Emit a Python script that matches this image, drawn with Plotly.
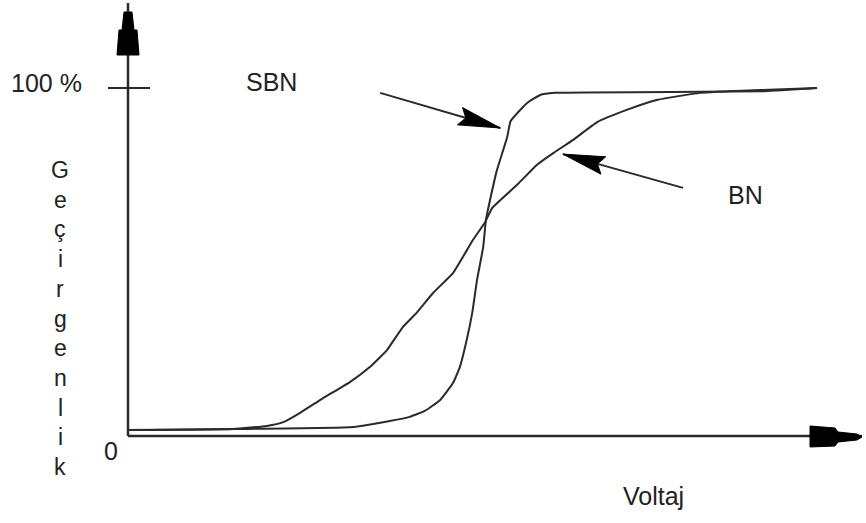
import plotly.graph_objects as go

# ---- data (voltage in arbitrary units, transmittance in %) ----
sbn_v = [0.00, 1.53, 3.28, 3.81, 4.10, 4.32, 4.54, 4.73, 4.83, 4.93, 5.01, 5.08,
         5.17, 5.21, 5.27, 5.37, 5.52, 5.57, 5.81, 6.00, 6.21, 8.33, 9.27, 10.03]
sbn_t = [1.7, 2.0, 2.6, 4.3, 5.5, 7.2, 10.3, 15.2, 19.8, 27.6, 35.3, 44.8,
         54.3, 62.1, 67.8, 76.4, 85.9, 90.5, 95.7, 98.0, 98.6, 98.9, 99.1, 100.0]

bn_v = [0.00, 1.53, 2.02, 2.26, 2.50, 2.84, 3.23, 3.52, 3.77, 4.00, 4.21, 4.44, 4.73,
        5.02, 5.20, 5.30, 5.66, 5.95, 6.19, 6.48, 6.83, 7.26, 7.71, 8.33, 9.20, 10.03]
bn_t = [1.7, 2.0, 2.9, 4.0, 6.6, 10.9, 15.5, 19.8, 24.7, 31.3, 35.6, 41.1, 46.8,
        56.3, 61.5, 65.5, 72.1, 77.9, 81.3, 85.1, 90.2, 93.7, 96.6, 98.6, 99.4, 100.0]

series_names = ["SBN", "BN"]
y_tick_labels = ["0", "100 %"]
x_title = "Voltaj"
y_title = "Geçirgenlik"

# label-arrow anchors (data units): tail -> tip
sbn_arrow = ((3.67, 98.6), (5.42, 88.5))
bn_arrow = ((8.08, 71.3), (6.33, 81.0))

# ---- layout geometry ----
W, H = 866, 523
OX, OY = 128, 436          # pixel of origin
PXV, PXT = 68.7, 3.48      # pixels per unit
def to_px(v, t):
    return OX + v * PXV, OY - t * PXT
def from_px(x, y):
    return (x - OX) / PXV, (OY - y) / PXT

x0, _ = from_px(0, 0)
x1, _ = from_px(W, 0)
_, y1 = from_px(0, 0)
_, y0 = from_px(0, H)

INK = "#2a2a2a"
FONT = dict(family="Liberation Sans, Arial, sans-serif", size=25, color="#222")

fig = go.Figure()
fig.add_trace(go.Scatter(x=sbn_v, y=sbn_t, mode="lines", name=series_names[0],
                         line=dict(color=INK, width=2, shape="spline", smoothing=0.4)))
fig.add_trace(go.Scatter(x=bn_v, y=bn_t, mode="lines", name=series_names[1],
                         line=dict(color=INK, width=2, shape="spline", smoothing=0.4)))

shapes = []
def poly(pts_px):
    d = ""
    for i, (px, py) in enumerate(pts_px):
        v, t = from_px(px, py)
        d += ("M" if i == 0 else "L") + f"{v:.4f},{t:.4f} "
    return dict(type="path", path=d + "Z", xref="x", yref="y",
                fillcolor="black", line=dict(color="black", width=1))

# axes
_, ytop = from_px(0, 3)
xend, _ = from_px(862, 0)
shapes.append(dict(type="line", x0=0, y0=0, x1=0, y1=ytop, xref="x", yref="y",
                   line=dict(color=INK, width=2.5)))
shapes.append(dict(type="line", x0=0, y0=0, x1=xend, y1=0, xref="x", yref="y",
                   line=dict(color=INK, width=2.5)))
# axis arrowheads (pixel outline)
shapes.append(poly([(124, 12), (132, 12), (134, 30), (137, 30), (139, 55),
                    (117, 55), (119, 30), (122, 30)]))
shapes.append(poly([(810, 426), (835, 428), (838, 432), (857, 434), (862, 437),
                    (857, 440), (838, 442), (835, 446), (810, 447)]))
# 100 % tick
tl, _ = from_px(108, 0)
tr, _ = from_px(150, 0)
shapes.append(dict(type="line", x0=tl, y0=100, x1=tr, y1=100, xref="x", yref="y",
                   line=dict(color=INK, width=2)))

# label arrows
def label_arrow(tail, tip, head_len=42, half_w=9):
    tx, ty = to_px(*tail)
    hx, hy = to_px(*tip)
    dx, dy = hx - tx, hy - ty
    n = (dx * dx + dy * dy) ** 0.5
    ux, uy = dx / n, dy / n
    bx, by = hx - ux * head_len, hy - uy * head_len
    px_, py_ = -uy, ux
    shapes.append(dict(type="line", x0=tail[0], y0=tail[1], x1=tip[0], y1=tip[1],
                       xref="x", yref="y", line=dict(color=INK, width=2)))
    shapes.append(poly([(hx, hy), (bx + px_ * half_w, by + py_ * half_w),
                        (bx + ux * 6, by + uy * 6),
                        (bx - px_ * half_w, by - py_ * half_w)]))
label_arrow(*sbn_arrow)
label_arrow(*bn_arrow)

annotations = []
def label(text, px, py, xanchor="center", size=25):
    v, t = from_px(px, py)
    annotations.append(dict(text=text, x=v, y=t, xref="x", yref="y", showarrow=False,
                            xanchor=xanchor, yanchor="middle",
                            font=dict(FONT, size=size)))
label(y_tick_labels[1], 84, 83, xanchor="right")
label(y_tick_labels[0], 111, 451)
label(series_names[0], 271, 82)
label(series_names[1], 745, 195)
label(x_title, 653, 496)
# vertical stacked axis title, one letter per line
first_baseline, step = 178, 29.7
for i, ch in enumerate(y_title):
    label(ch, 60, first_baseline + i * step - 8, size=23)

fig.update_layout(
    width=W, height=H, margin=dict(l=0, r=0, t=0, b=0),
    paper_bgcolor="white", plot_bgcolor="white", showlegend=False,
    xaxis=dict(range=[x0, x1], visible=False, fixedrange=True),
    yaxis=dict(range=[y0, y1], visible=False, fixedrange=True),
    shapes=shapes, annotations=annotations,
)
fig.write_html("out.html", config={"displayModeBar": False},
               post_script="document.body.style.margin='0';")
